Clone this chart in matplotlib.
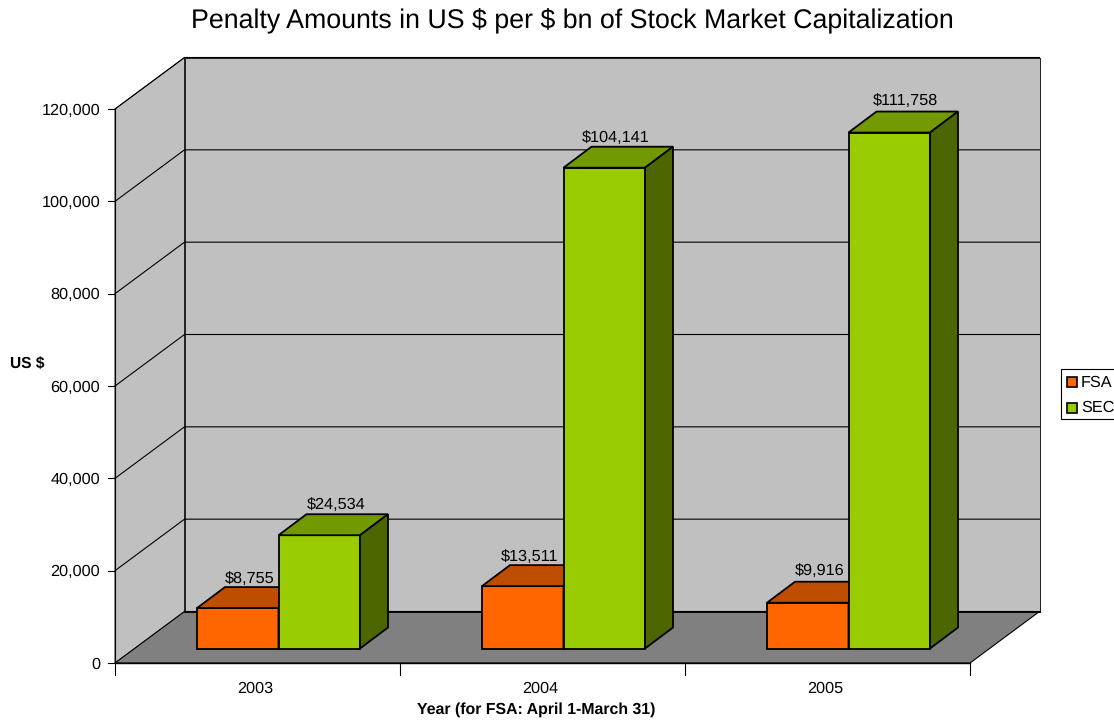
import matplotlib
matplotlib.use('Agg')
import matplotlib.pyplot as plt
from matplotlib.patches import Polygon, Rectangle

# values
years = ['2003', '2004', '2005']
fsa = [8755, 13511, 9916]
sec = [24534, 104141, 111758]
yticks = [0, 20000, 40000, 60000, 80000, 100000, 120000]

# label placement relative to each bar (x from bar left, y above bar top)
fsa_lab_dx = [53, 48, 53]
fsa_lab_dy = [29, 29, 32]
sec_lab_dx = [58, 52, 57]
sec_lab_dy = [30, 30, 32]

plt.rcParams['font.family'] = ['Liberation Sans', 'DejaVu Sans']
plt.rcParams['text.parse_math'] = False
plt.rcParams['text.hinting'] = 'none'

fig = plt.figure(figsize=(11.14, 7.21), dpi=100)
ax = fig.add_axes([0, 0, 1, 1])
ax.set_xlim(0, 1114)
ax.set_ylim(721, 0)
ax.axis('off')

# chart frame in pixels
x0, x1 = 115, 970
y0, ytop = 663, 109
ymax = 120000
dx, dy = 69.5, 51.5  # wall depth
bar_w = 81.5
inset_y = 14.5  # bar front sits this far back from the floor edge
bar_dx, bar_dy = 28, 21  # bar depth
cat_w = (x1 - x0) / len(years)


def ypix(v):
    return y0 - (y0 - ytop) * v / ymax


def poly(pts, fc, lw=1.0, z=1, ec='black'):
    ax.add_patch(Polygon(pts, closed=True, facecolor=fc, edgecolor=ec, linewidth=lw, zorder=z))


# walls and floor
poly([(x0 + dx, ytop - dy), (x1 + dx, ytop - dy), (x1 + dx, y0 - dy), (x0 + dx, y0 - dy)], '#c0c0c0', 0.6)
poly([(x0, ytop), (x0 + dx, ytop - dy), (x0 + dx, y0 - dy), (x0, y0)], '#c0c0c0', 0.6)
poly([(x0, y0), (x0 + dx, y0 - dy), (x1 + dx, y0 - dy), (x1, y0)], '#808080', 0.8)
ax.plot([x0 + dx, x1 + dx], [y0 - dy, y0 - dy], color='black', lw=1.3, zorder=2)

# gridlines and axis ticks
for t in yticks:
    y = ypix(t)
    if t > 0:
        ax.plot([x0, x0 + dx, x1 + dx], [y, y - dy, y - dy], color='black', lw=0.8, zorder=2)
    ax.plot([x0 - 7, x0], [y, y], color='black', lw=0.8, zorder=2)
    ax.text(x0 - 15, y + 1.5, f'{t:,}', ha='right', va='center', fontsize=11.7)
ax.plot([x0, x0], [ytop, y0], color='black', lw=0.8, zorder=2)
ax.plot([x0, x1], [y0, y0], color='black', lw=1.0, zorder=2)
for i in range(len(years) + 1):
    xt = x0 + i * cat_w
    ax.plot([xt, xt], [y0, y0 + 12], color='black', lw=0.8, zorder=2)


def bar(xl, v, front, top, side):
    base = y0 - inset_y
    h = (y0 - ytop) * v / ymax
    yt = base - h
    xr = xl + bar_w
    poly([(xl, yt), (xr, yt), (xr, base), (xl, base)], front, 1.3, 3)
    poly([(xl, yt), (xl + bar_dx, yt - bar_dy), (xr + bar_dx, yt - bar_dy), (xr, yt)], top, 1.3, 3)
    poly([(xr, yt), (xr + bar_dx, yt - bar_dy), (xr + bar_dx, base - bar_dy), (xr, base)], side, 1.3, 3)
    return yt


for i, year in enumerate(years):
    left = x0 + i * cat_w + 82
    yt = bar(left, fsa[i], '#ff6600', '#bf4d00', '#803300')
    ax.text(left + fsa_lab_dx[i], yt - fsa_lab_dy[i], f'${fsa[i]:,}', ha='center', va='center',
            fontsize=11.7, zorder=2)
    yt = bar(left + bar_w, sec[i], '#99cc00', '#739900', '#4d6600')
    ax.text(left + bar_w + sec_lab_dx[i], yt - sec_lab_dy[i], f'${sec[i]:,}', ha='center', va='center',
            fontsize=11.7, zorder=4)
    ax.text(x0 + (i + 0.5) * cat_w - 2, 688.5, year, ha='center', va='center', fontsize=11.7)

# titles
ax.text(572, 21, 'Penalty Amounts in US $ per $ bn of Stock Market Capitalization',
        ha='center', va='center', fontsize=19.25)
ax.text(536, 709.5, 'Year (for FSA: April 1-March 31)', ha='center', va='center',
        fontsize=11.4, fontweight='bold')
ax.text(27.5, 364.5, 'US $', ha='center', va='center', fontsize=11.2, fontweight='bold')

# legend
ax.add_patch(Rectangle((1060.5, 369), 60, 50, facecolor='white', edgecolor='black', lw=0.8, clip_on=True))
ax.add_patch(Rectangle((1067, 377), 10, 10, facecolor='#ff6600', edgecolor='black', lw=1.2))
ax.add_patch(Rectangle((1067, 402.5), 10, 10, facecolor='#99cc00', edgecolor='black', lw=1.2))
ax.text(1081, 382.5, 'FSA', ha='left', va='center', fontsize=11.7)
ax.text(1081, 408, 'SEC', ha='left', va='center', fontsize=11.7)

fig.savefig('out.png', dpi=100)
